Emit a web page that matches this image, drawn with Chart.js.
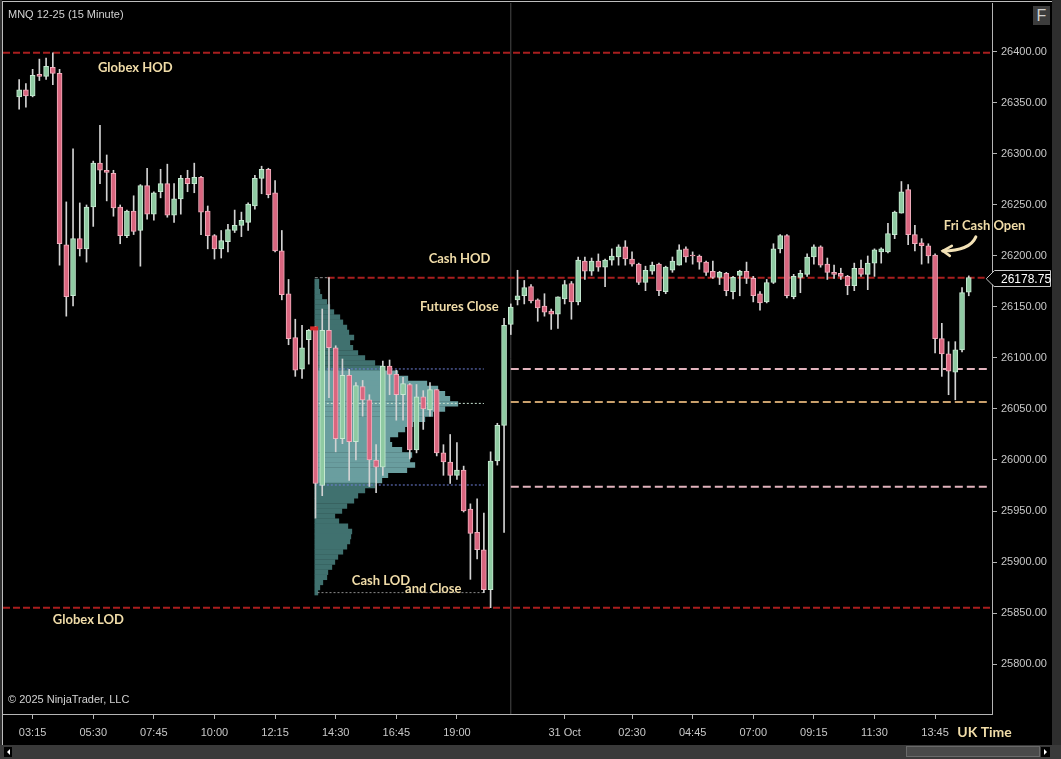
<!DOCTYPE html>
<html>
<head>
<meta charset="utf-8">
<title>MNQ 12-25 (15 Minute)</title>
<script src="https://cdn.jsdelivr.net/npm/chart.js@4.4.1/dist/chart.umd.min.js"></script>
<style>
    html, body { margin: 0; padding: 0; background: #000; }
    #wrap { position: relative; width: 1061px; height: 759px; overflow: hidden; background: #000; }
    #chart { position: absolute; left: 0; top: 0; }
    .chrome { position: absolute; }
    .txt { position: absolute; font-family: 'Liberation Sans', Arial, sans-serif; font-size: 11px; color: #d2d2d2; white-space: nowrap; line-height: 13px; }
</style>
</head>
<body>
<div id="wrap">
    <canvas id="chart" width="1061" height="759"></canvas>
    <!-- рамка окна -->
    <div class="chrome" style="left:0;top:0;width:2px;height:759px;background:#2e2e2e"></div>
    <div class="chrome" style="left:2px;top:1px;width:1050px;height:1px;background:#bdbdbd"></div>
    <div class="chrome" style="left:2px;top:1px;width:1px;height:744px;background:#bdbdbd"></div>
    <div class="chrome" style="left:1052px;top:0;width:9px;height:759px;background:#2e2e2e"></div>
    <div class="chrome" style="left:0;top:745px;width:1061px;height:14px;background:#3a3a3a"></div>
    <div class="chrome" style="left:4px;top:747px;width:8px;height:10px;background:#000"></div>
    <div class="chrome" style="left:7px;top:749px;width:0;height:0;border-top:3px solid transparent;border-bottom:3px solid transparent;border-right:3px solid #fff"></div>
    <div class="chrome" style="left:906px;top:746px;width:134px;height:11px;background:#4a4a4a;border:1px solid #6a6a6a;box-sizing:border-box"></div>
    <div class="chrome" style="left:1041px;top:747px;width:9px;height:10px;background:#000"></div>
    <div class="chrome" style="left:1044px;top:749px;width:0;height:0;border-top:3px solid transparent;border-bottom:3px solid transparent;border-left:3px solid #fff"></div>
    <div class="chrome" style="left:1033px;top:6px;width:17px;height:19px;background:#3c3c3c;color:#cfcfcf;font:16px 'Liberation Sans',Arial,sans-serif;text-align:center;line-height:19px">F</div>
    <div class="txt" style="left:8px;top:8px">MNQ 12-25 (15 Minute)</div>
    <div class="txt" style="left:8px;top:693px">© 2025 NinjaTrader, LLC</div>
</div>
<script>
// Свечи MNQ 12-25, 15 минут (номер бара = позиция по оси X)
const opens = [
    26356, 26363, 26357, 26378, 26376, 26385, 26379, 26211, 26161, 26217,
    26207, 26248, 26291, 26284, 26281, 26248, 26220, 26244, 26225, 26269,
    26241, 26263, 26271, 26240, 26256, 26276, 26271, 26277, 26244, 26220,
    26207, 26214, 26225, 26230, 26233, 26249, 26276, 26285, 26262, 26205,
    26163, 26120, 26089, 26118, 26129, 25975, 26127, 26110, 26021, 26083,
    26018, 26072, 26059, 26000, 25993, 26092, 26084, 26064, 26074, 26010,
    26062, 26049, 26069, 26007, 25998, 25985, 25990, 25952, 25929, 25912,
    25873, 25999, 26034, 26133, 26157, 26161, 26170, 26157, 26151, 26146,
    26143, 26158, 26173, 26155, 26195, 26185, 26195, 26189, 26196, 26199,
    26209, 26197, 26192, 26174, 26185, 26192, 26165, 26186, 26191, 26207,
    26201, 26200, 26194, 26185, 26179, 26183, 26165, 26181, 26185, 26178,
    26163, 26155, 26174, 26207, 26220, 26160, 26179, 26182, 26199, 26209,
    26192, 26184, 26183, 26180, 26171, 26188, 26182, 26193, 26204, 26204,
    26221, 26242, 26265, 26221, 26213, 26210, 26201, 26119, 26104, 26086,
    26108, 26164.5
];
const highs = [
    26373, 26369, 26383, 26393, 26394, 26399.25, 26383, 26253, 26305, 26252,
    26250, 26293, 26328, 26299, 26284, 26250, 26245, 26259, 26270, 26286,
    26263, 26285, 26290, 26271, 26279, 26284, 26291, 26278, 26249, 26221,
    26225, 26231, 26245, 26243, 26252, 26279, 26288, 26286, 26274, 26225,
    26177, 26138, 26132, 26128, 26131, 26148, 26178.75, 26112, 26099, 26089,
    26076, 26078, 26064, 26015, 26097, 26098, 26088, 26081, 26075, 26074,
    26068, 26076, 26069, 26015, 26025, 26017, 25994, 25957, 25962, 25948,
    26008, 26036, 26139, 26153, 26186, 26176, 26172, 26158, 26163, 26148,
    26160, 26176, 26175, 26199, 26199, 26198, 26202, 26197, 26207, 26211,
    26215, 26204, 26193, 26190, 26194, 26193, 26190, 26199, 26211, 26209,
    26204, 26201, 26195, 26195, 26185, 26184, 26180, 26186, 26194, 26180,
    26165, 26177, 26212, 26221, 26221, 26182, 26186, 26202, 26211, 26210,
    26198, 26191, 26188, 26181, 26193, 26196, 26200, 26207, 26208, 26232,
    26244, 26273, 26270, 26230, 26217, 26212, 26202, 26134, 26116, 26116,
    26169, 26180.5
];
const lows = [
    26344, 26346, 26356, 26372, 26373, 26368, 26191, 26141, 26151, 26200,
    26194, 26229, 26271, 26254, 26239, 26212, 26218, 26221, 26190, 26236,
    26235, 26257, 26238, 26233, 26241, 26263, 26262, 26221, 26207, 26197,
    26198, 26204, 26223, 26219, 26225, 26246, 26261, 26257, 26204, 26157,
    26113, 26082, 26080, 26094, 25943, 25965, 26061, 26008, 26016, 25980,
    26000, 26043, 25974, 25968, 25985, 26064, 26039, 26039, 26001, 26007,
    26030, 26043, 26004, 25985, 25977, 25981, 25949, 25883, 25903, 25870,
    25855.25, 25995, 25929, 26123, 26152, 26153, 26154, 26136, 26141, 26128,
    26129, 26153, 26138, 26152, 26177, 26181, 26185, 26170, 26191, 26191,
    26191, 26190, 26172, 26166, 26182, 26161, 26163, 26184, 26191, 26194,
    26192, 26187, 26181, 26178, 26172, 26161, 26158, 26161, 26173, 26155,
    26147, 26154, 26173, 26203, 26159, 26158, 26164, 26180, 26192, 26189,
    26177, 26178, 26177, 26162, 26166, 26180, 26167, 26180, 26193, 26203,
    26217, 26242, 26211, 26205, 26192, 26193, 26105, 26082, 26064, 26059,
    26106, 26161
];
const closes = [
    26363, 26357, 26377, 26376, 26386, 26379, 26212, 26160, 26217, 26207,
    26248, 26291, 26284, 26282, 26247, 26220, 26244, 26224, 26269, 26241,
    26262, 26271, 26240, 26256, 26276, 26271, 26277, 26243, 26220, 26207,
    26215, 26226, 26230, 26235, 26251, 26276, 26285, 26260, 26205, 26162,
    26119, 26088, 26110, 26127, 25977, 26127, 26110, 26021, 26083, 26018,
    26073, 26059, 26000, 25993, 26092, 26084, 26064, 26075, 26010, 26062,
    26050, 26069, 26007, 25998, 25985, 25990, 25950, 25928, 25912, 25873,
    25999, 26034, 26132, 26150, 26161, 26169, 26156, 26149, 26145, 26143,
    26160, 26172, 26155, 26196, 26185, 26195, 26189, 26196, 26200, 26209,
    26197, 26192, 26174, 26186, 26191, 26166, 26189, 26195, 26206, 26199,
    26200, 26194, 26184, 26179, 26184, 26166, 26179, 26185, 26178, 26161,
    26154, 26174, 26207, 26220, 26161, 26180, 26183, 26199, 26209, 26191,
    26184, 26182, 26180, 26171, 26188, 26182, 26193, 26206, 26207, 26222,
    26243, 26263, 26221, 26212, 26210, 26200, 26119, 26104, 26087, 26108,
    26164, 26178.75
];

// Подписи оси времени (бар -> текст)
const tickBars   = [2, 11, 20, 29, 38, 47, 56, 65, 81, 91, 100, 109, 118, 127, 136];
const tickLabels = ['03:15', '05:30', '07:45', '10:00', '12:15', '14:30', '16:45', '19:00',
                    '31 Oct', '02:30', '04:45', '07:00', '09:15', '11:30', '13:45'];
const priceTicks = [25800, 25850, 25900, 25950, 26000, 26050, 26100, 26150,
                    26200, 26250, 26300, 26350, 26400];

// Профиль объёма кассовой сессии (цена -> относительный объём)
const profilePrices = [
    26175, 26170, 26165, 26160, 26155, 26150, 26145, 26140, 26135, 26130,
    26125, 26120, 26115, 26110, 26105, 26100, 26095, 26090, 26085, 26080,
    26075, 26070, 26065, 26060, 26055, 26050, 26045, 26040, 26035, 26030,
    26025, 26020, 26015, 26010, 26005, 26000, 25995, 25990, 25985, 25980,
    25975, 25970, 25965, 25960, 25955, 25950, 25945, 25940, 25935, 25930,
    25925, 25920, 25915, 25910, 25905, 25900, 25895, 25890, 25885, 25880,
    25875, 25870
];
const profileVolumes = [
    4, 4, 5, 7, 12, 15, 19, 25, 28, 32,
    34, 39, 35, 38, 43, 50, 60, 67, 83, 93,
    112, 123, 130, 135, 143, 130, 118, 110, 98, 90,
    83, 75, 77, 87, 97, 95, 100, 92, 73, 67,
    60, 50, 43, 39, 32, 27, 20, 24, 33, 37,
    36, 35, 32, 28, 23, 20, 17, 13, 12, 8,
    5, 3
];
const VAH = 26089.25;
const VAL = 25975.5;

// Уровни: цена и диапазон баров
const levelNames  = ['Globex HOD', 'Globex LOD', 'Cash HOD', 'Profile top', 'VAH', 'POC', 'VAL', 'Cash LOD', 'Naked VAH', 'Naked POC', 'Naked VAL'];
const levelPrices = [26399.25, 25855.25, 26178.75, 26178.75, 26089.25, 26055.5, 25975.5, 25870, 26089.25, 26056.75, 25973.75];
const levelFrom   = [-2.4, -2.4, 45.8, 43.9, 43.9, 43.9, 43.9, 44.3, 73, 73, 73];
const levelTo     = [144.45, 144.45, 144.45, 45.8, 69, 69, 69, 69, 144.1, 144.1, 144.1];

const sessionBreakBar = 73;
const cashOpenBar = 44;

// Оформление
const X_MIN = -2.4, X_MAX = 144.45;
const Y_MIN = 25751, Y_MAX = 26448;
const PROFILE_BASE = 43.9;
const VOL_PER_BAR = 6.735;

const levelStyle = {
    'Globex HOD':  { color: '#a81e1e', dash: [7, 3], width: 2 },
    'Globex LOD':  { color: '#a81e1e', dash: [7, 3], width: 2 },
    'Cash HOD':    { color: '#a81e1e', dash: [7, 3], width: 2 },
    'Profile top': { color: '#8a8a8a', dash: [3, 2], width: 1 },
    'VAH':         { color: '#6f80d8', dash: [2, 2], width: 1 },
    'POC':         { color: '#c8e4d2', dash: [2, 2], width: 1 },
    'VAL':         { color: '#6f80d8', dash: [2, 2], width: 1 },
    'Cash LOD':    { color: '#8a8a8a', dash: [2, 2], width: 1 },
    'Naked VAH':   { color: '#e2b3bd', dash: [8, 4], width: 2 },
    'Naked POC':   { color: '#c9a06c', dash: [8, 4], width: 2 },
    'Naked VAL':   { color: '#e2b3bd', dash: [8, 4], width: 2 }
};

const notes = [
    { text: 'Globex HOD',    bar: 11.7,  price: 26384,   size: 13 },
    { text: 'Globex LOD',    bar: 5.0,   price: 25843.5, size: 13 },
    { text: 'Cash HOD',      bar: 60.8,  price: 26197,   size: 13 },
    { text: 'Futures Close', bar: 59.5,  price: 26150,   size: 13 },
    { text: 'Cash LOD',      bar: 49.4,  price: 25881.5, size: 13 },
    { text: 'and Close',     bar: 57.3,  price: 25873.5, size: 13 },
    { text: 'Fri Cash Open', bar: 137.3, price: 26229.5, size: 13 },
    { text: 'UK Time',       bar: 139.3, price: 25732.5, size: 14 }
];

// Наборы данных
const bars = opens.map((o, i) => i);
const isUp = opens.map((o, i) => closes[i] >= o);

const levelSets = levelNames.map((name, i) => ({
    type: 'line',
    data: [{ x: levelFrom[i], y: levelPrices[i] }, { x: levelTo[i], y: levelPrices[i] }],
    borderColor: levelStyle[name].color,
    borderWidth: levelStyle[name].width,
    borderDash: levelStyle[name].dash,
    pointRadius: 0,
    xAxisID: 'x', yAxisID: 'y'
}));

const datasets = [
    {
        type: 'line',
        label: 'Cash open',
        data: [{ x: cashOpenBar - 0.2, y: opens[cashOpenBar] }],
        showLine: false,
        pointStyle: 'line',
        pointRadius: 4,
        pointBorderWidth: 4,
        pointBorderColor: '#d42a2a',
        xAxisID: 'x', yAxisID: 'y'
    },
    {
        type: 'bar',
        label: 'Body',
        data: bars.map(i => ({ x: i, y: [opens[i], closes[i]] })),
        backgroundColor: bars.map(i => isUp[i] ? '#8fcaa2' : '#d9667f'),
        borderColor: bars.map(i => isUp[i] ? '#c6ead2' : '#f2aebd'),
        borderWidth: 1,
        borderSkipped: false,
        barThickness: 5,
        minBarLength: 1,
        grouped: false,
        xAxisID: 'x', yAxisID: 'y'
    },
    {
        type: 'bar',
        label: 'Wick',
        data: bars.map(i => ({ x: i, y: [lows[i], highs[i]] })),
        backgroundColor: '#d2d2d2',
        borderWidth: 0,
        barThickness: 1,
        grouped: false,
        xAxisID: 'x', yAxisID: 'y'
    },
    ...levelSets,
    {
        type: 'line',
        label: 'Session break',
        data: [{ x: sessionBreakBar, y: Y_MIN }, { x: sessionBreakBar, y: Y_MAX }],
        borderColor: '#4a4a4a',
        borderWidth: 1,
        pointRadius: 0,
        xAxisID: 'x', yAxisID: 'y'
    },
    {
        type: 'bar',
        label: 'Profile',
        indexAxis: 'y',
        data: profilePrices.map((p, i) => ({ x: profileVolumes[i], y: p })),
        backgroundColor: profilePrices.map(p => (p <= VAH && p >= VAL) ? '#6a9e9f' : '#40716f'),
        borderWidth: 0,
        barThickness: 4.8,
        grouped: false,
        xAxisID: 'xv', yAxisID: 'y'
    }
];

// Подписи, стрелка и метка последней цены
const annotations = {
    id: 'annotations',
    afterDraw(chart) {
        const ctx = chart.ctx;
        const xs = chart.scales.x, ys = chart.scales.y;
        ctx.save();
        ctx.fillStyle = '#f0dca8';
        ctx.textAlign = 'left';
        ctx.textBaseline = 'middle';
        notes.forEach(n => {
            ctx.font = `bold ${n.size}px Lato, 'Open Sans', sans-serif`;
            ctx.fillText(n.text, xs.getPixelForValue(n.bar), ys.getPixelForValue(n.price));
        });

        // стрелка к "Fri Cash Open"
        const fri = notes.find(n => n.text === 'Fri Cash Open');
        const ax = xs.getPixelForValue(fri.bar), ay = ys.getPixelForValue(fri.price);
        ctx.strokeStyle = '#f3e2b6';
        ctx.lineWidth = 3;
        ctx.lineCap = 'round';
        ctx.beginPath();
        ctx.moveTo(ax + 32, ay + 11);
        ctx.quadraticCurveTo(ax + 26, ay + 25, ax - 1, ay + 25);
        ctx.stroke();
        ctx.lineWidth = 2.5;
        ctx.beginPath();
        ctx.moveTo(ax + 8, ay + 20);
        ctx.lineTo(ax - 1, ay + 25);
        ctx.lineTo(ax + 6, ay + 30);
        ctx.stroke();

        // метка последней цены
        const last = closes[closes.length - 1];
        const py = Math.round(ys.getPixelForValue(last)) + 0.5;
        const left = chart.chartArea.right - 6;
        ctx.fillStyle = '#000';
        ctx.strokeStyle = '#c8c8c8';
        ctx.lineWidth = 1;
        ctx.beginPath();
        ctx.moveTo(left + 0.5, py);
        ctx.lineTo(left + 8.5, py - 8);
        ctx.lineTo(1050.5, py - 8);
        ctx.lineTo(1050.5, py + 8);
        ctx.lineTo(left + 8.5, py + 8);
        ctx.closePath();
        ctx.fill();
        ctx.stroke();
        ctx.fillStyle = '#ffffff';
        ctx.font = "12px 'Liberation Sans', Arial, sans-serif";
        ctx.fillText(last.toFixed(2), left + 15, py + 1);
        ctx.restore();
    }
};

const axisFont = { family: "'Liberation Sans', Arial, sans-serif", size: 11 };

new Chart(document.getElementById('chart'), {
    data: { datasets: datasets },
    options: {
        responsive: false,
        animation: false,
        layout: { autoPadding: false, padding: { left: 3, top: 3, right: 9, bottom: 14 } },
        plugins: { legend: { display: false }, tooltip: { enabled: false } },
        scales: {
            x: {
                type: 'linear',
                min: X_MIN, max: X_MAX,
                offset: false,
                afterBuildTicks: s => { s.ticks = tickBars.map(v => ({ value: v })); },
                afterFit: s => { s.height = 31; s.paddingLeft = 0; s.paddingRight = 0; },
                ticks: {
                    autoSkip: false, maxRotation: 0, padding: 7,
                    color: '#c8c8c8', font: axisFont,
                    callback: v => tickLabels[tickBars.indexOf(v)]
                },
                grid: { offset: false, drawOnChartArea: false, drawTicks: true, tickLength: 5, color: '#b4b4b4' },
                border: { display: true, color: '#b4b4b4' }
            },
            xv: {
                type: 'linear', axis: 'x', display: false, offset: false,
                min: (X_MIN - PROFILE_BASE) * VOL_PER_BAR,
                max: (X_MAX - PROFILE_BASE) * VOL_PER_BAR
            },
            y: {
                type: 'linear', position: 'right',
                min: Y_MIN, max: Y_MAX,
                offset: false,
                afterBuildTicks: s => { s.ticks = priceTicks.map(v => ({ value: v })); },
                afterFit: s => { s.width = 60; s.paddingTop = 0; s.paddingBottom = 0; },
                ticks: {
                    padding: 4, color: '#c8c8c8', font: axisFont,
                    callback: v => v.toFixed(2)
                },
                grid: { offset: false, drawOnChartArea: false, drawTicks: true, tickLength: 5, color: '#b4b4b4' },
                border: { display: true, color: '#b4b4b4' }
            }
        }
    },
    plugins: [annotations]
});
</script>
</body>
</html>
